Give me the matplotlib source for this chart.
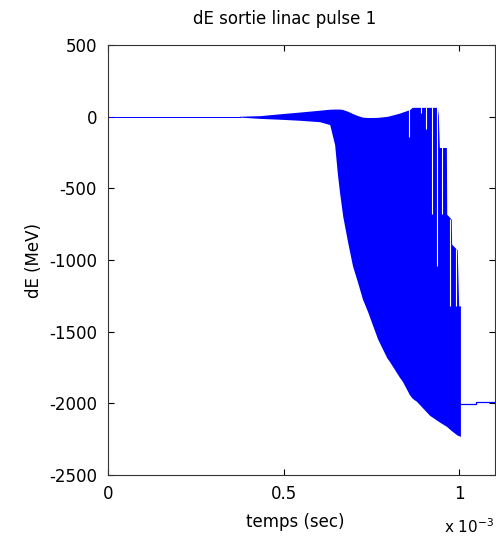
import matplotlib
matplotlib.use('Agg')
import matplotlib.pyplot as plt
import numpy as np

plt.rcParams['font.family'] = ['DejaVu Sans']
plt.rcParams['axes.unicode_minus'] = False

# time in units of 1e-3 s
flat_t = [0.0, 0.375]
flat_v = [0, 0]

# envelope of the fast oscillation (upper / lower)
env_t = [0.375, 0.432, 0.489, 0.545, 0.602, 0.631, 0.645, 0.653, 0.659, 0.668,
         0.682, 0.696, 0.710, 0.724, 0.739, 0.767, 0.793, 0.801, 0.830, 0.838,
         0.858, 0.866, 0.878, 0.915, 0.937, 0.940, 0.943, 0.963, 0.964, 0.977,
         0.978, 0.994, 0.998, 1.003]
env_hi = [3, 7, 20, 32, 45, 52, 53, 53, 53, 50,
          38, 22, 8, -3, -6, -5, 2, 6, 25, 32,
          49, 65, 65, 65, 65, 14, -215, -215, -680, -715,
          -889, -930, -1320, -1320]
env_lo = [-3, -12, -18, -25, -35, -55, -195, -403, -528, -694,
          -875, -1042, -1153, -1271, -1361, -1549, -1680, -1708, -1820, -1847,
          -1940, -1965, -1986, -2083, -2120, -2125, -2130, -2160, -2162, -2190,
          -2192, -2222, -2226, -2230]

# white gaps where the signal does not reach the envelope
gap_t = [0.858, 0.892, 0.906, 0.923, 0.9375, 0.952, 0.974, 0.991]
gap_hi = [70, 70, 70, 70, 70, -215, -715, -924]
gap_lo = [-139, 28, -83, -680, -1042, -680, -1320, -1320]

# after the pulse
tail_t = [1.003, 1.048, 1.048, 1.1]
tail_v = [-2003, -2003, -1990, -1990]

fig = plt.figure(figsize=(4.96, 5.37), dpi=100)
ax = fig.add_axes([108/496, (537-475)/537, (494.5-108)/496, (475-45)/537])

ax.plot(flat_t, flat_v, color='blue', lw=0.7)
ax.fill_between(env_t, env_lo, env_hi, color='blue', lw=0)
ax.vlines(gap_t, gap_lo, gap_hi, color='white', lw=0.8)
ax.plot(tail_t, tail_v, color='blue', lw=0.9)

ax.set_xlim(0, 1.1)
ax.set_ylim(-2500, 500)
ax.set_xticks([0, 0.5, 1])
ax.set_xticklabels(['0', '0.5', '1'])
ax.set_yticks(np.arange(-2500, 501, 500))
ax.tick_params(direction='in', length=4, width=0.8, top=True, right=True,
               labelsize=12)
ax.tick_params(axis='y', pad=8)
ax.tick_params(axis='x', pad=7)
for s in ax.spines.values():
    s.set_linewidth(0.8)
    s.set_color('#333333')

ax.set_xlabel('temps (sec)', fontsize=12)
ax.set_ylabel('dE (MeV)', fontsize=12)
ax.xaxis.set_label_coords(0.484, -0.088)
ax.yaxis.set_label_coords(-0.168, 0.5)
fig.text(285/496, 1 - 19/537, 'dE sortie linac pulse 1', ha='center', va='center', fontsize=12)
fig.text(494/496, 1 - 527/537, 'x 10$^{-3}$', ha='right', va='center', fontsize=11)

fig.savefig('out.png', dpi=100, facecolor='white')
